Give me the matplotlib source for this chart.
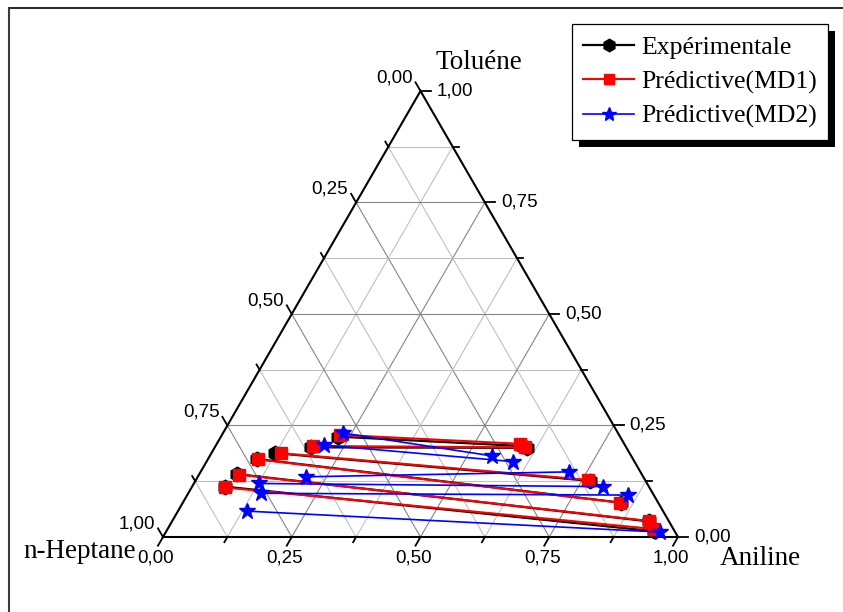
import numpy as np
import matplotlib
matplotlib.use('Agg')
import matplotlib.pyplot as plt
from matplotlib.lines import Line2D
from matplotlib.patches import Rectangle
from matplotlib.transforms import IdentityTransform

# Tie-line data (mass fractions), raffinate phase (left) and extract phase (right).
# Experimental
exp_raf_ani = [0.228, 0.187, 0.124, 0.095, 0.074, 0.063]
exp_raf_tol = [0.225, 0.201, 0.188, 0.175, 0.141, 0.113]
exp_ext_ani = [0.595, 0.607, 0.766, 0.850, 0.926, 0.947]
exp_ext_tol = [0.204, 0.200, 0.126, 0.077, 0.035, 0.013]
# Predictive (MD1)
md1_raf_ani = [0.229, 0.190, 0.135, 0.098, 0.078, 0.065]
md1_raf_tol = [0.229, 0.204, 0.188, 0.174, 0.140, 0.111]
md1_ext_ani = [0.589, 0.603, 0.761, 0.849, 0.925, 0.944]
md1_ext_tol = [0.209, 0.201, 0.128, 0.077, 0.036, 0.018]
# Predictive (MD2)
md2_raf_ani = [0.233, 0.210, 0.211, 0.126, 0.141, 0.135]
md2_raf_tol = [0.233, 0.206, 0.135, 0.120, 0.098, 0.058]
md2_ext_ani = [0.547, 0.596, 0.715, 0.798, 0.856, 0.960]
md2_ext_tol = [0.182, 0.169, 0.146, 0.113, 0.094, 0.011]

series_labels = ['Expérimentale', 'Prédictive(MD1)', 'Prédictive(MD2)']
tick_values = [0.0, 0.25, 0.5, 0.75, 1.0]

# Triangle geometry (pixels): side length and n-Heptane corner position.
SCALE = 515.0
X0, Y0 = 163, 537
PX = 1 / SCALE
S3 = np.sqrt(3) / 2
W, H = 843, 612

SERIF = 'Liberation Serif'
SANS = 'Liberation Sans'


def tern(a, t):
    """Aniline / Toluene fractions -> cartesian coords of the triangle."""
    a = np.asarray(a, float)
    t = np.asarray(t, float)
    return a + t / 2, t * S3


def px(x, y):
    """Figure pixel position -> data coords."""
    return (x - X0) / SCALE, (Y0 - y) / SCALE


def fmt(v):
    return f'{v:.2f}'.replace('.', ',')


fig = plt.figure(figsize=(W / 100, H / 100), dpi=100)
ax = fig.add_axes([0, 0, 1, 1])
ax.set_xlim(-X0 / SCALE, (W - X0) / SCALE)
ax.set_ylim(-(H - Y0) / SCALE, Y0 / SCALE)
ax.axis('off')

# grid lines every 0.125
for k in range(1, 8):
    f = k / 8
    c = '#858585' if k % 2 == 0 else '#c0c0c0'
    ax.plot(*tern([0, 1 - f], [f, f]), color=c, lw=0.8, zorder=1)
    ax.plot(*tern([f, f], [0, 1 - f]), color=c, lw=0.8, zorder=1)
    ax.plot(*tern([1 - f, 0], [0, 1 - f]), color=c, lw=0.8, zorder=1)

# triangle outline
ax.plot(*tern([0, 1, 0, 0], [0, 0, 1, 0]), color='k', lw=1.5, zorder=3,
        solid_joinstyle='miter')

# ticks
for k in range(9):
    f = k / 8
    L = (10 if k % 2 == 0 else 6) * PX
    x, y = tern(f, 0)
    ax.plot([x, x - 0.5 * L], [y, y - S3 * L], color='k', lw=1.3, zorder=3)
    x, y = tern(1 - f, f)
    ax.plot([x, x + L], [y, y], color='k', lw=1.3, zorder=3)
    x, y = tern(0, 1 - f)
    ax.plot([x, x - 0.5 * L], [y, y + S3 * L], color='k', lw=1.3, zorder=3)

# tick labels
for v in tick_values:
    x, y = tern(v, 0)
    ax.text(x - 7 * PX, y - 21 * PX, fmt(v), ha='center', va='center',
            family=SANS, fontsize=13.5)
    x, y = tern(1 - v, v)
    ax.text(x + 16 * PX, y, fmt(v), ha='left', va='center',
            family=SANS, fontsize=13.5)
    x, y = tern(0, 1 - v)
    ax.text(x - 8 * PX, y + 13 * PX, fmt(v), ha='right', va='center',
            family=SANS, fontsize=13.5)

# vertex titles
ax.text(*px(479, 69), 'Toluéne', ha='center', va='baseline', family=SERIF, fontsize=19.5)
ax.text(*px(23, 558), 'n-Heptane', ha='left', va='baseline', family=SERIF, fontsize=19.5)
ax.text(*px(720, 565), 'Aniline', ha='left', va='baseline', family=SERIF, fontsize=19.5)

# tie-lines
for i in range(len(exp_raf_ani)):
    ax.plot(*tern([exp_raf_ani[i], exp_ext_ani[i]], [exp_raf_tol[i], exp_ext_tol[i]]),
            color='k', lw=1.6, marker='h', ms=10.5, mfc='k', mec='k', zorder=4)
for i in range(len(md1_raf_ani)):
    ax.plot(*tern([md1_raf_ani[i], md1_ext_ani[i]], [md1_raf_tol[i], md1_ext_tol[i]]),
            color='red', lw=1.5, marker='s', ms=8, mfc='red', mec='red', zorder=5)
for i in range(len(md2_raf_ani)):
    ax.plot(*tern([md2_raf_ani[i], md2_ext_ani[i]], [md2_raf_tol[i], md2_ext_tol[i]]),
            color='blue', lw=1.2, marker='*', ms=12, mfc='blue', mec='blue', zorder=6)

# legend with a hard black shadow
handles = [
    Line2D([], [], color='k', lw=1.6, marker='h', ms=9),
    Line2D([], [], color='red', lw=1.5, marker='s', ms=7),
    Line2D([], [], color='blue', lw=1.2, marker='*', ms=10.5),
]
leg = fig.legend(handles, series_labels, loc='upper left',
                 bbox_to_anchor=(571.5 / W, 1 - 24 / H), bbox_transform=fig.transFigure,
                 borderaxespad=0, fancybox=False, framealpha=1, edgecolor='k',
                 prop={'family': SERIF, 'size': 18.5}, handlelength=2.0,
                 handletextpad=0.25, labelspacing=0.45, borderpad=0.45)
leg.get_frame().set_linewidth(0.9)
leg.set_zorder(10)

fig.canvas.draw()
bb = leg.get_window_extent()
fig.add_artist(Rectangle((bb.x0 + 7, bb.y0 - 7), bb.width, bb.height,
                         transform=IdentityTransform(), facecolor='k',
                         edgecolor='none', zorder=9))

# outer frame (top and left edges visible)
fig.add_artist(Line2D([9 / W, 1], [1 - 8 / H] * 2, color='k', lw=1.2,
                      transform=fig.transFigure))
fig.add_artist(Line2D([9 / W] * 2, [0, 1 - 8 / H], color='#3c3c3c', lw=1.5,
                      transform=fig.transFigure))

fig.savefig('out.png', dpi=100)
